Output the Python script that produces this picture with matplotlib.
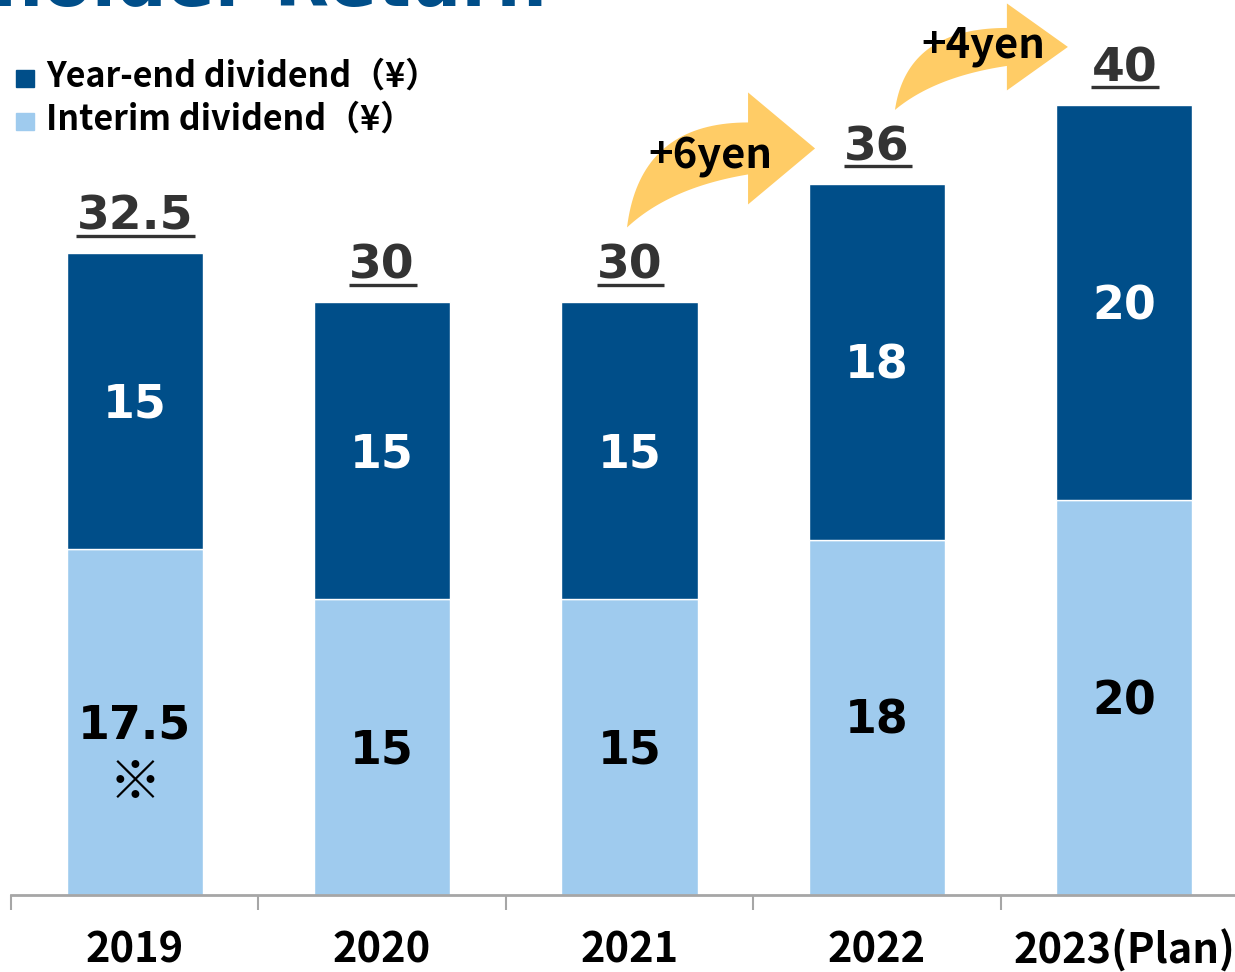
import matplotlib
matplotlib.use("Agg")
import matplotlib.pyplot as plt
import matplotlib.transforms as mtrans
import numpy as np
from matplotlib.patches import Polygon, Rectangle
from matplotlib.lines import Line2D

# ---------------- data ----------------
years = ["2019", "2020", "2021", "2022", "2023(Plan)"]
interim = [17.5, 15, 15, 18, 20]
year_end = [15, 15, 15, 18, 20]
total_labels = ["32.5", "30", "30", "36", "40"]
interim_labels = ["17.5", "15", "15", "18", "20"]
yearend_labels = ["15", "15", "15", "18", "20"]
legend_labels = ["Year-end dividend（¥）", "Interim dividend（¥）"]
increase_labels = ["+6yen", "+4yen"]
increase_from = [2, 3]
note_mark = "※"
title = "Shareholder Return"

# ---------------- style ----------------
DARK = "#004E89"
LIGHT = "#9FCBEE"
ARROW = "#FFCC66"
TOTAL_C = "#333333"
AXIS_C = "#A6A6A6"
CJK = ["Noto Sans CJK JP", "DejaVu Sans"]
LATIN = ["DejaVu Sans"]

W, H = 1235, 972
fig = plt.figure(figsize=(W / 100, H / 100), dpi=100)
ax = fig.add_axes([11 / W, (H - 895) / H, 1 - 11 / W, 895 / H])

x = np.arange(len(years))
interim_a = np.array(interim)
yearend_a = np.array(year_end)
totals = interim_a + yearend_a

ax.bar(x, interim_a, width=0.55, color=LIGHT, edgecolor="white", linewidth=1, zorder=2)
ax.bar(x, yearend_a, bottom=interim_a, width=0.55, color=DARK, edgecolor="white",
       linewidth=1, zorder=2)

px_per_unit = 19.75
ax.set_xlim(-0.5, -0.5 + (W - 11) / 247.4)
ax.set_ylim(0, 895 / px_per_unit)

for s in ["top", "left", "right"]:
    ax.spines[s].set_visible(False)
ax.spines["bottom"].set_color(AXIS_C)
ax.spines["bottom"].set_linewidth(2)
ax.set_yticks([])
ax.set_xticks(x)
ax.set_xticklabels(years, fontsize=30, fontweight="bold", family=CJK)
ax.set_xticks(np.arange(len(years)) - 0.5, minor=True)
ax.tick_params(axis="x", which="major", length=0, pad=25)
ax.tick_params(axis="x", which="minor", length=11, width=1.5, color=AXIS_C)

def baseline_tf(fs, ratio=0.3645):
    return mtrans.offset_copy(ax.transData, fig=fig, y=-ratio * fs, units="points")

# segment labels
FS_IN = 33
for i in range(len(years)):
    ax.text(i, interim_a[i] / 2, interim_labels[i], ha="center", va="baseline",
            fontsize=FS_IN, fontweight="bold", color="black", family=LATIN,
            transform=baseline_tf(FS_IN), zorder=3)
    ax.text(i, interim_a[i] + yearend_a[i] / 2, yearend_labels[i], ha="center",
            va="baseline", fontsize=FS_IN, fontweight="bold", color="white",
            family=LATIN, transform=baseline_tf(FS_IN), zorder=3)
# note mark under 2019 interim
ax.text(0, interim_a[0] / 2, note_mark, ha="center", va="center", fontsize=38,
        fontweight="bold", color="black", family=CJK,
        transform=mtrans.offset_copy(ax.transData, fig=fig, y=-44, units="points"),
        zorder=3)

# totals (underlined)
FS_T = 34
tot_tf = mtrans.offset_copy(ax.transData, fig=fig, y=17, units="points")
tot_texts = []
for i in range(len(years)):
    t = ax.text(x[i], totals[i], total_labels[i], ha="center", va="baseline",
                fontsize=FS_T, fontweight="bold", color=TOTAL_C, family=LATIN,
                transform=tot_tf, zorder=3)
    tot_texts.append(t)

# legend (manual, as in original)
leg_colors = [DARK, LIGHT]
leg_base_y = [87, 130]
for lab, col, by in zip(legend_labels, leg_colors, leg_base_y):
    fig.patches.append(Rectangle((16 / W, 1 - (by + 0) / H), 18 / W, 17 / H,
                                 transform=fig.transFigure, color=col))
    fig.text(46 / W, 1 - by / H, lab, ha="left", va="baseline", fontsize=24.5,
             fontweight="bold", color="black", family=CJK)

# title (cut at top edge as in original)
fig.text(547 / W, 1 - 6 / H, title, ha="right", va="baseline", fontsize=51,
         fontweight="bold", color=DARK, family=LATIN)


def qbez(p0, p1, p2, n=40):
    t = np.linspace(0, 1, n)[:, None]
    return (1 - t) ** 2 * p0 + 2 * (1 - t) * t * p1 + t ** 2 * p2


def curved_arrow(tail, tip, head_len, head_half, body_half):
    tf = ax.transData
    P0 = tf.transform(tail)
    T = tf.transform(tip)
    hb = T[0] - head_len
    top_end = np.array([hb, T[1] + body_half])
    bot_end = np.array([hb, T[1] - body_half])
    top_ctrl = np.array([P0[0] + 0.107 * (hb - P0[0]), T[1] + body_half])
    bot_ctrl = np.array([P0[0] + 0.355 * (hb - P0[0]),
                         T[1] - body_half - 0.245 * (T[1] - body_half - P0[1])])
    top = qbez(P0, top_ctrl, top_end)
    bot = qbez(P0, bot_ctrl, bot_end)[::-1]
    head = np.array([[hb, T[1] + head_half], T, [hb, T[1] - head_half]])
    pts = np.vstack([top, head, bot])
    pts_data = tf.inverted().transform(pts)
    ax.add_patch(Polygon(pts_data, closed=True, facecolor=ARROW, edgecolor="none",
                         zorder=1, clip_on=False))


# arrow geometry: anchored to the bars
arrow_specs = [
    dict(tail=(2 - 0.01, totals[2] + 3.8), tip=(2.75, totals[3] + 1.8),
         head_len=67, head_half=56, body_half=26,
         text=(2.325, totals[3] + 0.81)),
    dict(tail=(3.073, totals[3] + 3.75), tip=(3.772, totals[4] + 2.94),
         head_len=61, head_half=43.5, body_half=19,
         text=(3.429, totals[4] + 2.43)),
]
for lab, spec in zip(increase_labels, arrow_specs):
    curved_arrow(spec["tail"], spec["tip"], spec["head_len"], spec["head_half"],
                 spec["body_half"])
    ax.text(spec["text"][0], spec["text"][1], lab, ha="center", va="baseline",
            fontsize=30, fontweight="bold", color="black", family=CJK, zorder=4,
            clip_on=False)

# underline totals
fig.canvas.draw()
r = fig.canvas.get_renderer()
for i, t in enumerate(tot_texts):
    bb = t.get_window_extent(renderer=r)
    base = tot_tf.transform((x[i], totals[i]))
    y_line = base[1] - 6
    ln = Line2D([bb.x0, bb.x1 + 2], [y_line, y_line], color=TOTAL_C, linewidth=2.4,
                transform=None, solid_capstyle="butt")
    fig.lines.append(ln)

fig.savefig("out.png", dpi=100)
